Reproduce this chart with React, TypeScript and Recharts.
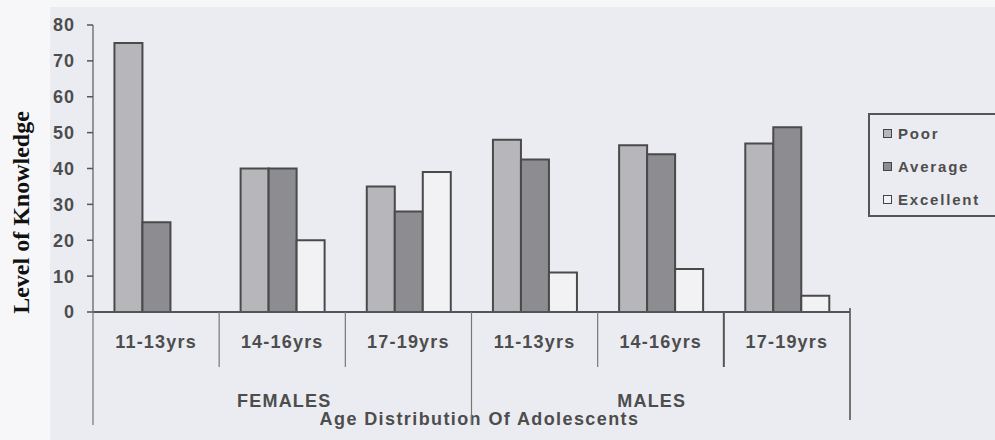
import React from 'react';
import { BarChart, Bar, XAxis, YAxis, Legend } from 'recharts';

const categories = ['11-13yrs', '14-16yrs', '17-19yrs', '11-13yrs', '14-16yrs', '17-19yrs'];
const genders = ['FEMALES', 'FEMALES', 'FEMALES', 'MALES', 'MALES', 'MALES'];
const poor = [75, 40, 35, 48, 46.5, 47];
const average = [25, 40, 28, 42.5, 44, 51.5];
const excellent = [0, 20, 39, 11, 12, 4.5];
const yTicks = [0, 10, 20, 30, 40, 50, 60, 70, 80];
const seriesNames = ['Poor', 'Average', 'Excellent'];
const xTitle = 'Age Distribution Of Adolescents';
const yTitle = 'Level of Knowledge';

const data = categories.map((c, i) => ({
  key: `${genders[i]}|${c}`,
  age: c,
  gender: genders[i],
  Poor: poor[i],
  Average: average[i],
  Excellent: excellent[i],
}));

const TEXT = '#4d4d4d';
const SANS = '"Liberation Sans", Arial, sans-serif';

const AxisTick = (props: any) => {
  const { x, y, payload } = props;
  const idx = data.findIndex((d) => d.key === payload.value);
  if (idx < 0) return null;
  const item = data[idx];
  const half = payload.offset || 63;
  const groupStart = idx === 0 || data[idx - 1].gender !== item.gender;
  const last = idx === data.length - 1;
  const members = data.map((d, i) => (d.gender === item.gender ? i : -1)).filter((i) => i >= 0);
  const mid = members[Math.floor(members.length / 2)];
  const groupIdx = Array.from(new Set(genders)).indexOf(item.gender);
  const dx = groupIdx === 0 ? 2 : -9;
  return (
    <g>
      <line
        x1={x - half}
        x2={x - half}
        y1={y}
        y2={y + (groupStart ? 113 : 55)}
        stroke={idx === data.length - 1 ? '#555' : '#777'}
        strokeWidth={idx === data.length - 1 ? 2 : 1.2}
      />
      {last && (
        <line x1={x + half} x2={x + half} y1={y - 4} y2={y + 108} stroke="#555" strokeWidth={1.6} />
      )}
      <text
        x={x}
        y={y + 36}
        textAnchor="middle"
        fontFamily={SANS}
        fontWeight="bold"
        fontSize={18}
        letterSpacing={1.2}
        fill={TEXT}
      >
        {item.age}
      </text>
      {idx === mid && (
        <text
          x={x + dx}
          y={y + 95}
          textAnchor="middle"
          fontFamily={SANS}
          fontWeight="bold"
          fontSize={18}
          letterSpacing={1.2}
          fill={TEXT}
        >
          {item.gender}
        </text>
      )}
    </g>
  );
};

const XTitle = (props: any) => {
  const vb = props.viewBox || { x: 93, y: 312, width: 757 };
  return (
    <text
      x={vb.x + vb.width / 2 + 8}
      y={vb.y + 113}
      textAnchor="middle"
      fontFamily={SANS}
      fontWeight="bold"
      fontSize={18}
      letterSpacing={1.4}
      fill={TEXT}
    >
      {xTitle}
    </text>
  );
};

const YTitle = (props: any) => {
  const vb = props.viewBox || { x: 0, y: 25, width: 93, height: 287 };
  const cx = vb.x + 29;
  const cy = vb.y + vb.height / 2 + 44;
  return (
    <text
      x={cx}
      y={cy}
      transform={`rotate(-90, ${cx}, ${cy})`}
      textAnchor="middle"
      fontFamily='"Liberation Serif", "Times New Roman", serif'
      fontWeight="bold"
      fontSize={24}
      fill="#111"
    >
      {yTitle}
    </text>
  );
};

const LegendBox = (props: any) => {
  const payload = [...(props.payload || [])].sort(
    (a: any, b: any) => seriesNames.indexOf(a.value) - seriesNames.indexOf(b.value)
  );
  return (
    <div
      style={{
        position: 'relative',
        width: 127,
        height: 104,
        boxSizing: 'border-box',
        borderLeft: '2px solid #555',
        borderTop: '2px solid #555',
        borderBottom: '2px solid #555',
        fontFamily: SANS,
        fontWeight: 'bold',
        fontSize: 15,
        letterSpacing: 1.8,
        color: TEXT,
      }}
    >
      {payload.map((p: any, i: number) => (
        <div
          key={p.value}
          style={{
            position: 'absolute',
            left: 13,
            top: 9 + i * 33,
            height: 18,
            display: 'flex',
            alignItems: 'center',
            whiteSpace: 'nowrap',
          }}
        >
          <span
            style={{
              display: 'inline-block',
              width: 9,
              height: 9,
              boxSizing: 'border-box',
              border: '1.5px solid #444',
              background: p.color,
              marginRight: 6,
            }}
          />
          <span>{p.value}</span>
        </div>
      ))}
    </div>
  );
};

export default function App() {
  return (
    <div
      style={{
        position: 'absolute',
        left: 0,
        top: 0,
        width: 995,
        height: 440,
        overflow: 'hidden',
        background: '#f7f7f9',
      }}
    >
      <div
        style={{
          position: 'absolute',
          left: 50,
          top: 7,
          width: 945,
          height: 433,
          background: '#ebecf1',
        }}
      />
      <div style={{ position: 'absolute', left: 0, top: 0 }}>
        <BarChart
          width={995}
          height={440}
          data={data}
          margin={{ top: 25, right: 145, left: 0, bottom: 8 }}
          barCategoryGap="17%"
          barGap={0}
        >
          <XAxis
            dataKey="key"
            type="category"
            height={120}
            interval={0}
            tickSize={0}
            tickMargin={0}
            tickLine={false}
            axisLine={{ stroke: '#555', strokeWidth: 2 }}
            tick={<AxisTick />}
            label={XTitle}
          />
          <YAxis
            width={93}
            domain={[0, 80]}
            ticks={yTicks}
            interval={0}
            tickSize={6}
            tickMargin={12}
            axisLine={{ stroke: '#777', strokeWidth: 1.5 }}
            tickLine={{ stroke: '#555', strokeWidth: 1.5 }}
            tick={{
              fontSize: 18,
              fontWeight: 'bold',
              fill: TEXT,
              fontFamily: SANS,
              letterSpacing: 1,
            }}
            label={YTitle}
          />
          <Legend
            layout="vertical"
            align="center"
            verticalAlign="middle"
            itemSorter={null as any}
            content={<LegendBox />}
            wrapperStyle={{ left: 868, top: 113, width: 127, height: 104 }}
          />
          <Bar dataKey="Poor" fill="#b7b7bb" stroke="#4a4a4a" strokeWidth={2} isAnimationActive={false} />
          <Bar dataKey="Average" fill="#8d8d91" stroke="#4a4a4a" strokeWidth={2} isAnimationActive={false} />
          <Bar dataKey="Excellent" fill="#f2f2f5" stroke="#4a4a4a" strokeWidth={2} isAnimationActive={false} />
        </BarChart>
      </div>
    </div>
  );
}
